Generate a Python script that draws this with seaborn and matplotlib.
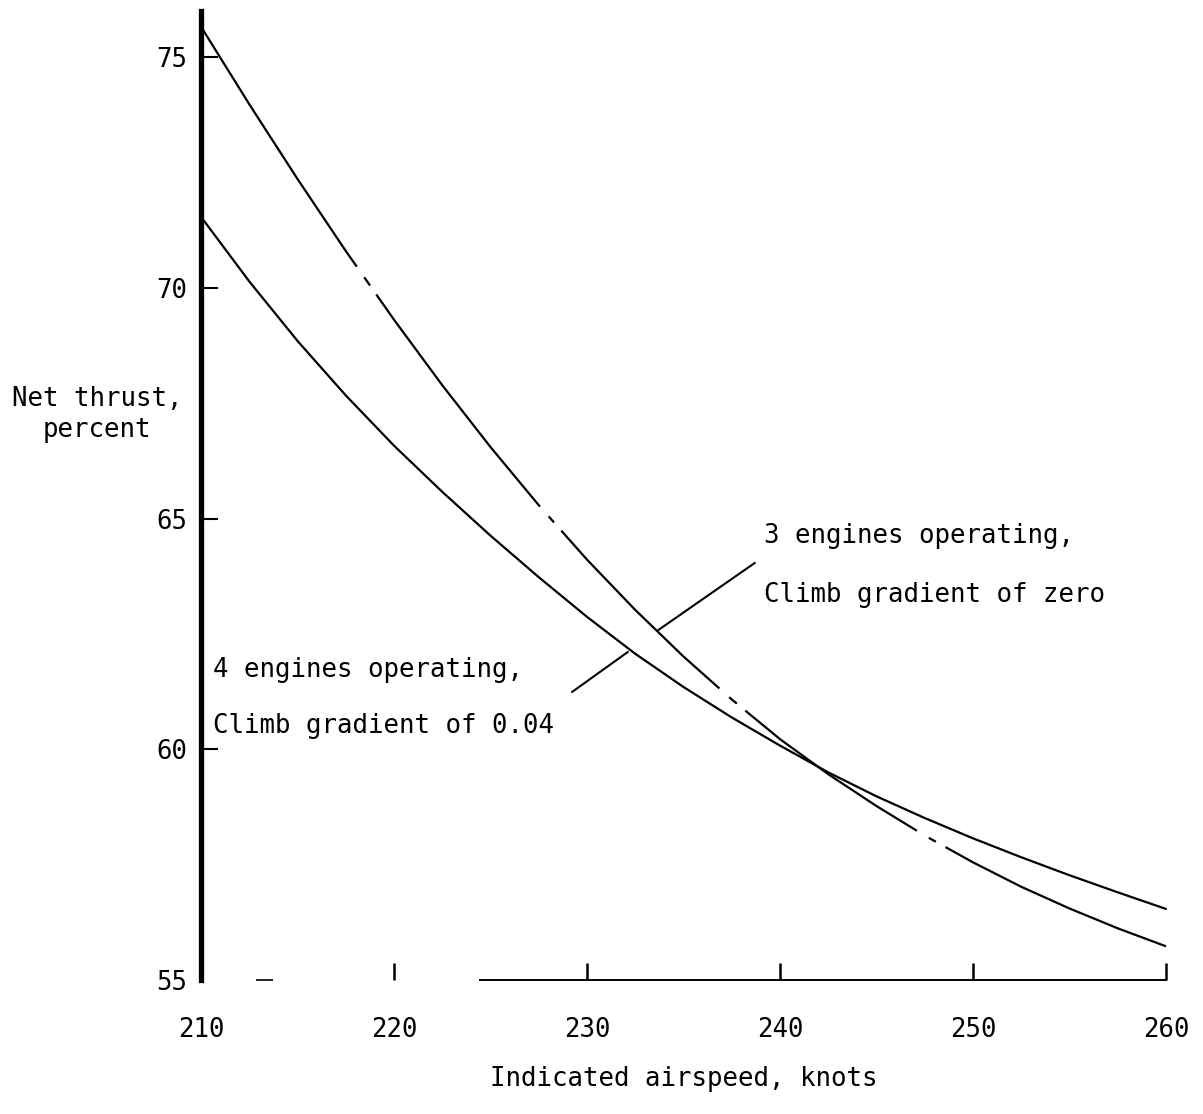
import matplotlib
matplotlib.use("Agg")
import matplotlib.pyplot as plt
import seaborn as sns
import pandas as pd

# ---- data ----
airspeed = [210, 212.5, 215, 217.5, 220, 222.5, 225, 227.5, 230, 232.5, 235,
            237.5, 240, 242.5, 245, 247.5, 250, 252.5, 255, 257.5, 260]
thrust_3eng = [75.66, 73.98, 72.36, 70.80, 69.31, 67.89, 66.55, 65.29, 64.11,
               63.02, 62.01, 61.08, 60.22, 59.46, 58.77, 58.13, 57.55, 57.02,
               56.55, 56.12, 55.73]
thrust_4eng = [71.54, 70.14, 68.85, 67.67, 66.58, 65.58, 64.63, 63.73, 62.87,
               62.07, 61.35, 60.69, 60.08, 59.50, 58.98, 58.51, 58.07, 57.66,
               57.27, 56.90, 56.54]
x_ticks = [210, 220, 230, 240, 250, 260]
y_ticks = [55, 60, 65, 70, 75]
label_3eng = ["3 engines operating,", "Climb gradient of zero"]
label_4eng = ["4 engines operating,", "Climb gradient of 0.04"]
x_label = "Indicated airspeed, knots"
y_label = "Net thrust,\npercent"

df3 = pd.DataFrame({"airspeed": airspeed, "thrust": thrust_3eng})
df4 = pd.DataFrame({"airspeed": airspeed, "thrust": thrust_4eng})

sns.set_theme(style="white")
plt.rcParams["font.family"] = ["DejaVu Sans Mono", "DejaVu Sans"]
plt.rcParams["lines.scale_dashes"] = False
plt.rcParams["text.color"] = "black"
FS = 18.5

fig = plt.figure(figsize=(12.03, 11.14), dpi=100)
ax = fig.add_axes([0.16708, 0.12029, 0.80216, 0.86984])

dash_3 = (0, (206, 9.4, 7.2, 7.9, 193, 9.4, 5.8, 7.9, 161, 9.4, 7.2, 7.9,
              151, 10, 5.8, 7.9, 300, 10))
sns.lineplot(data=df3, x="airspeed", y="thrust", ax=ax, color="black",
             lw=1.6, linestyle=dash_3, estimator=None, clip_on=False)
sns.lineplot(data=df4, x="airspeed", y="thrust", ax=ax, color="black",
             lw=1.6, estimator=None, clip_on=False)

ax.set_xlim(210, 260)
ax.set_ylim(55, 76)
ax.set_xticks(x_ticks)
ax.set_yticks(y_ticks)
ax.set_xticklabels([str(t) for t in x_ticks], fontsize=FS)
ax.set_yticklabels([str(t) for t in y_ticks], fontsize=FS)

for s in ("top", "right"):
    ax.spines[s].set_visible(False)
ax.spines["left"].set_linewidth(3.8)
ax.spines["left"].set_color("black")
ax.spines["bottom"].set_linewidth(1.4)
ax.spines["bottom"].set_color("black")
ax.spines["bottom"].set_bounds(224.45, 260)
# small surviving fragment of the bottom axis line in the scan
ax.hlines(55, 212.85, 213.75, color="black", lw=1.2, clip_on=False)

ax.tick_params(axis="y", direction="in", length=12, width=1.5, pad=10,
               colors="black", left=True)
ax.tick_params(axis="x", direction="in", length=12, width=1.8, pad=27,
               colors="black", bottom=True)
ax.yaxis.get_major_ticks()[0].tick1line.set_visible(False)
ax.xaxis.get_major_ticks()[0].tick1line.set_visible(False)

ax.set_xlabel(x_label, fontsize=FS, labelpad=16, color="black")
ax.set_ylabel(y_label, fontsize=FS, rotation=0, ha="center", va="center",
              linespacing=1.25, color="black")
ax.yaxis.set_label_coords(-0.1078, 0.584)

# curve labels
ax.text(239.17, 64.47, label_3eng[0], fontsize=FS, ha="left", va="baseline", color="black")
ax.text(239.17, 63.19, label_3eng[1], fontsize=FS, ha="left", va="baseline", color="black")
ax.text(210.6, 61.56, label_4eng[0], fontsize=FS, ha="left", va="baseline", color="black")
ax.text(210.6, 60.35, label_4eng[1], fontsize=FS, ha="left", va="baseline", color="black")

# leader lines from labels to curves
ax.annotate("", xy=(233.68, 62.58), xytext=(238.70, 64.04),
            arrowprops=dict(arrowstyle="-", lw=1.5, color="black",
                            shrinkA=0, shrinkB=0))
ax.annotate("", xy=(232.12, 62.11), xytext=(229.22, 61.24),
            arrowprops=dict(arrowstyle="-", lw=1.5, color="black",
                            shrinkA=0, shrinkB=0))

fig.savefig("out.png", dpi=100, facecolor="white")
